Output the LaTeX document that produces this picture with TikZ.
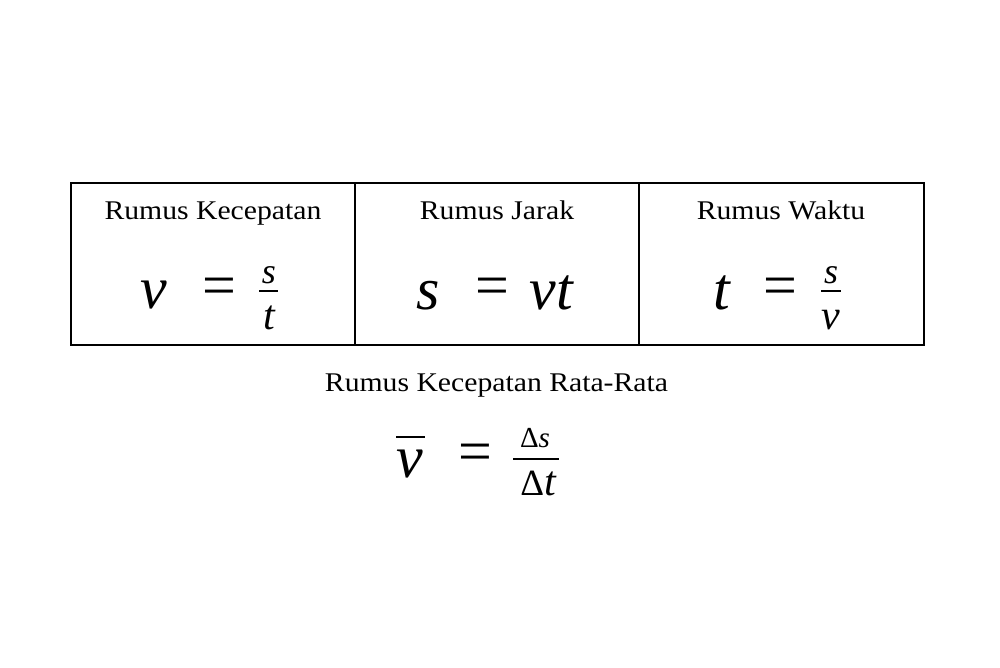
\documentclass[tikz,border=0pt]{standalone}
\usepackage{fontspec}
\newfontfamily\headfont{Liberation Serif}[FakeStretch=1.1]
\newfontfamily\formfont{Liberation Serif}
\tikzset{every path/.style={black, line width=1.2pt}, every node/.style={inner sep=0pt, anchor=base},
  heading/.style={font=\headfont\fontsize{27}{27}\selectfont},
  bigsym/.style={font=\formfont\itshape\fontsize{60}{60}\selectfont},
  eqsign/.style={font=\formfont\fontsize{60}{60}\selectfont},
  numer/.style={font=\formfont\itshape\fontsize{36}{36}\selectfont},
  denom/.style={font=\formfont\itshape\fontsize{42}{42}\selectfont},
  fracbar/.style={line width=2.2pt}}

\begin{document}
\begin{tikzpicture}[x=1pt,y=-1pt]
   \useasboundingbox (0,0) rectangle (1000,667);
   % table
   \draw (71,183) rectangle (924,345);
   \draw (355,183) -- (355,345);
   \draw (639,183) -- (639,345);
   \node[heading] (hv) at (213,219.3) {Rumus Kecepatan};
   \node[heading] (hs) at (497,219.3) {Rumus Jarak};
   \node[heading] (ht) at (781,219.3) {Rumus Waktu};
   % v = s/t
   \node[bigsym] (va) at (154,308) {v};
   \node[eqsign] (ea) at (219.5,305) {=};
   \node[numer]  (sa) at (269,283) {s};
   \node[denom]  (ta) at (269,329.5) {t};
   \draw[fracbar] (259.3,290.8) -- (278.3,290.8);
   % s = vt
   \node[bigsym] (sb) at (428.5,309) {s};
   \node[eqsign] (eb) at (492.5,305) {=};
   \node[bigsym] (vb) at (551.5,309) {vt};
   % t = s/v
   \node[bigsym] (tc) at (721.5,309) {t};
   \node[eqsign] (ec) at (780,305) {=};
   \node[numer]  (sc) at (831,283) {s};
   \node[denom]  (vc) at (831,329.5) {v};
   \draw[fracbar] (821,290.8) -- (841,290.8);
   % rata-rata
   \node[heading] (hr) at (496.5,391.6) {Rumus Kecepatan Rata-Rata};
   \node[bigsym] (vr) at (410,477) {v};
   \draw[line width=1.6pt] (396,437) -- (425,437);
   \node[eqsign] (er) at (475,471.5) {=};
   \node[font=\formfont\fontsize{29}{29}\selectfont] (dsr) at (535,447.7) {Δ\itshape s};
   \node[font=\formfont\fontsize{37}{37}\selectfont] (dtr) at (538,495) {Δ{\itshape\fontsize{42}{42}\selectfont t}};
   \draw[fracbar] (513,459.3) -- (559,459.3);
\end{tikzpicture}
\end{document}
